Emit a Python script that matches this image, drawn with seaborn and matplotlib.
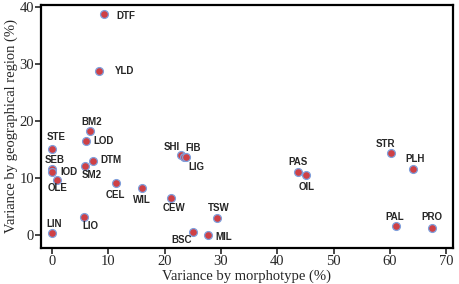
import pandas as pd
import matplotlib.pyplot as plt
import seaborn as sns

# trait codes with variance explained (%)
traits = ["DTF", "YLD", "BM2", "LOD", "STE", "SEB", "IOD", "OLE", "SM2", "DTM",
          "CEL", "WIL", "CEW", "SHI", "FIB", "LIG", "TSW", "BSC", "MIL", "LIN",
          "LIO", "STR", "PLH", "PAS", "OIL", "PAL", "PRO"]
morphotype = [9.2, 8.3, 6.8, 6.0, 0.0, 0.0, 0.0, 0.8, 5.9, 7.3,
              11.3, 15.9, 21.1, 22.9, 23.5, 23.8, 29.3, 25.0, 27.6, 0.05,
              5.6, 60.2, 64.1, 43.7, 45.1, 61.0, 67.4]
region = [38.7, 28.7, 18.2, 16.5, 15.1, 11.5, 11.0, 9.6, 12.0, 12.9,
          9.1, 8.2, 6.4, 13.9, 13.7, 13.6, 2.9, 0.5, -0.1, 0.35,
          3.2, 14.3, 11.6, 11.0, 10.4, 1.5, 1.2]

df = pd.DataFrame({"trait": traits, "morph": morphotype, "region": region})

# label offsets in pixels (dx, dy, ha)
offsets = {
    "DTF": (12, -2, "left"), "YLD": (16, 0, "left"), "BM2": (1, 9, "center"),
    "LOD": (7, 0, "left"), "STE": (4, 12, "center"), "SEB": (3, 9, "center"),
    "IOD": (8, 0, "left"), "OLE": (1, -8, "center"), "SM2": (6, -9, "center"),
    "DTM": (7, 1, "left"), "CEL": (0, -12, "center"), "WIL": (0, -12, "center"),
    "CEW": (3, -10, "center"), "SHI": (-9, 8, "center"), "FIB": (9, 9, "center"),
    "LIG": (10, -10, "center"), "TSW": (2, 10, "center"), "BSC": (-11, -8, "center"),
    "MIL": (8, -2, "left"), "LIN": (2, 9, "center"), "LIO": (7, -9, "center"),
    "STR": (-6, 9, "center"), "PLH": (2, 10, "center"), "PAS": (0, 10, "center"),
    "OIL": (1, -12, "center"), "PAL": (-1, 9, "center"), "PRO": (0, 11, "center"),
}

sns.set_style("ticks")
plt.rcParams['font.family'] = ['Liberation Serif', 'DejaVu Serif']

fig = plt.figure(figsize=(4.59, 2.84), dpi=100)
ax = fig.add_axes([0.089, 0.127, 0.898, 0.857])

sns.scatterplot(data=df, x="morph", y="region", ax=ax, s=32,
                color="#cf4045", edgecolor="#7f9fdc", linewidth=0.9, zorder=3)

for t, x, y in zip(df["trait"], df["morph"], df["region"]):
    dx, dy, ha = offsets[t]
    ax.annotate(t, (x, y), xytext=(dx, dy), textcoords="offset pixels",
                ha=ha, va="center", fontsize=7, fontweight="bold",
                family=["Liberation Sans", "DejaVu Sans"])

ax.set_xlim(-2, 71.2)
ax.set_ylim(-2.3, 40.35)
ax.set_xticks(range(0, 71, 10))
ax.set_yticks(range(0, 41, 10))
ax.tick_params(labelsize=10.5, length=4, width=1.2, direction="out", pad=1)
for sp in ax.spines.values():
    sp.set_linewidth(1.6)
    sp.set_color("black")
ax.set_xlabel("Variance by morphotype (%)", fontsize=10.5, labelpad=1)
ax.set_ylabel("Variance by geographical region (%)", fontsize=10.5, labelpad=1)

plt.savefig("out.png", dpi=100)
